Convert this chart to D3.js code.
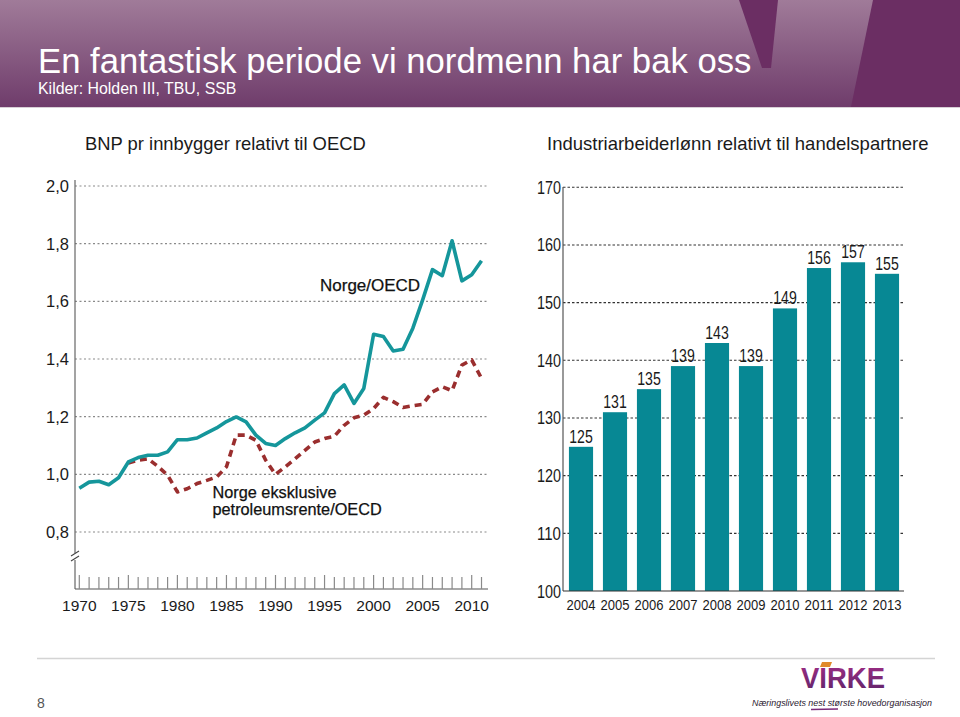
<!DOCTYPE html>
<html><head><meta charset="utf-8">
<script src="https://cdn.jsdelivr.net/npm/d3@7"></script>
<style>body{margin:0;background:#fff}svg{display:block}</style>
</head><body>
<script>
// ---- Data ----
const lineYears = d3.range(1970, 2012);
const norgeOECD = [0.952,0.973,0.976,0.964,0.988,1.043,1.058,1.066,1.066,1.078,1.12,1.12,1.126,1.144,1.161,1.183,1.199,1.182,1.136,1.107,1.10,1.124,1.144,1.161,1.188,1.213,1.28,1.31,1.246,1.298,1.486,1.478,1.428,1.434,1.507,1.605,1.71,1.689,1.81,1.671,1.692,1.741];
const exPetroYears = d3.range(1975, 2012);
const norgeExPetro = [1.039,1.049,1.054,1.028,0.997,0.939,0.95,0.968,0.979,0.991,1.026,1.136,1.136,1.118,1.049,1.0,1.026,1.054,1.083,1.112,1.124,1.132,1.17,1.196,1.205,1.228,1.267,1.252,1.232,1.238,1.243,1.286,1.304,1.29,1.379,1.397,1.333];
const leftTicks = [0.8,1.0,1.2,1.4,1.6,1.8,2.0];
const leftYearLabels = [1970,1975,1980,1985,1990,1995,2000,2005,2010];

const barYears = ["2004","2005","2006","2007","2008","2009","2010","2011","2012","2013"];
const wageIndex = [125,131,135,139,143,139,149,156,157,155];
const rightTicks = [100,110,120,130,140,150,160,170];

const sans = "'Liberation Sans',Arial,sans-serif";

const svg = d3.select("body").append("svg").attr("width",960).attr("height",717);
const defs = svg.append("defs");
const hg = defs.append("linearGradient").attr("id","hdr").attr("x1",0).attr("y1",0).attr("x2",0).attr("y2",1);
hg.append("stop").attr("offset","0%").attr("stop-color","#a07b99");
hg.append("stop").attr("offset","100%").attr("stop-color","#6f3c6b");
const lg = defs.append("linearGradient").attr("id","logo").attr("x1",0).attr("y1",0).attr("x2",0).attr("y2",1);
lg.append("stop").attr("offset","0%").attr("stop-color","#a22d86");
lg.append("stop").attr("offset","100%").attr("stop-color","#5b2468");

// ---- Header ----
svg.append("rect").attr("x",0).attr("y",0).attr("width",960).attr("height",107).attr("fill","url(#hdr)");
svg.append("polygon").attr("points","739,0 778,0 771,68 762,68").attr("fill","#6b2e63");
svg.append("polygon").attr("points","873,0 960,0 960,107 851,107").attr("fill","#6b2e63");
svg.append("line").attr("x1",0).attr("x2",960).attr("y1",107.5).attr("y2",107.5).attr("stroke","#d8cfd6");
svg.append("text").attr("x",38).attr("y",73).attr("font-family",sans).attr("font-size",34.7).attr("fill","#fff")
  .text("En fantastisk periode vi nordmenn har bak oss");
svg.append("text").attr("x",38).attr("y",94).attr("font-family",sans).attr("font-size",15.9).attr("fill","#fff")
  .text("Kilder: Holden III, TBU, SSB");

// ---- Chart titles ----
svg.append("text").attr("x",85).attr("y",150).attr("font-family",sans).attr("font-size",18.4).attr("fill","#1a1a1a")
  .text("BNP pr innbygger relativt til OECD");
svg.append("text").attr("x",547).attr("y",150).attr("font-family",sans).attr("font-size",18.5).attr("fill","#1a1a1a")
  .text("Industriarbeiderlønn relativt til handelspartnere");

// ---- Left chart ----
const x = d3.scaleLinear().domain([1970, 2010]).range([79.3, 471.7]);
const y = d3.scaleLinear().domain([0.8, 2.0]).range([532, 186]);
const L = svg.append("g");
L.selectAll("line.grid").data(leftTicks).join("line").attr("class","grid")
  .attr("x1",75).attr("x2",488).attr("y1",d=>y(d)).attr("y2",d=>y(d))
  .attr("stroke","#8a8a8a").attr("stroke-width",1.2).attr("stroke-dasharray","2,2.5");
L.selectAll("text.yl").data(leftTicks).join("text").attr("class","yl")
  .attr("x",69).attr("y",d=>y(d)+6).attr("text-anchor","end")
  .attr("font-family",sans).attr("font-size",16.5).attr("fill","#1a1a1a")
  .text(d=>d3.format(".1f")(d).replace(".",","));
// y axis with break
L.append("line").attr("x1",75).attr("x2",75).attr("y1",180).attr("y2",553).attr("stroke","#666").attr("stroke-width",1.2);
L.append("line").attr("x1",75).attr("x2",75).attr("y1",560).attr("y2",589).attr("stroke","#666").attr("stroke-width",1.2);
L.append("line").attr("x1",71).attr("x2",79).attr("y1",556).attr("y2",551).attr("stroke","#444").attr("stroke-width",1.1);
L.append("line").attr("x1",71).attr("x2",79).attr("y1",561).attr("y2",556).attr("stroke","#444").attr("stroke-width",1.1);
// x axis
L.append("line").attr("x1",75).attr("x2",488).attr("y1",589).attr("y2",589).attr("stroke","#555").attr("stroke-width",1.2);
L.selectAll("line.tk").data(lineYears).join("line").attr("class","tk")
  .attr("x1",d=>x(d)).attr("x2",d=>x(d)).attr("y1",d=>d%5===0?575:577).attr("y2",589)
  .attr("stroke","#8a8a8a").attr("stroke-width",1.2);
L.selectAll("text.xl").data(leftYearLabels).join("text").attr("class","xl")
  .attr("x",d=>x(d)).attr("y",611).attr("text-anchor","middle")
  .attr("font-family",sans).attr("font-size",15.5).attr("fill","#1a1a1a").text(d=>d);
// lines
const line = d3.line().x(d=>x(d[0])).y(d=>y(d[1]));
L.append("path").datum(exPetroYears.map((yr,i)=>[yr,norgeExPetro[i]]))
  .attr("d",line).attr("fill","none").attr("stroke","#9a2e2e").attr("stroke-width",3.6)
  .attr("stroke-dasharray","7,5").attr("stroke-linejoin","round");
L.append("path").datum(lineYears.map((yr,i)=>[yr,norgeOECD[i]]))
  .attr("d",line).attr("fill","none").attr("stroke","#15969b").attr("stroke-width",3.6).attr("stroke-linejoin","round");
L.append("text").attr("x",320).attr("y",291).attr("font-family",sans).attr("font-size",17).attr("fill","#111").attr("stroke","#111").attr("stroke-width",0.25).text("Norge/OECD");
L.append("text").attr("x",212.5).attr("y",498).attr("font-family",sans).attr("font-size",16.3).attr("fill","#111").attr("stroke","#111").attr("stroke-width",0.25).text("Norge eksklusive");
L.append("text").attr("x",212.5).attr("y",515).attr("font-family",sans).attr("font-size",16.3).attr("fill","#111").attr("stroke","#111").attr("stroke-width",0.25).text("petroleumsrente/OECD");

// ---- Right chart ----
const xb = d3.scaleBand().domain(barYears).range([564, 904]).paddingInner(0.29).paddingOuter(0.145);
const yb = d3.scaleLinear().domain([100,170]).range([591, 187.3]);
const R = svg.append("g");
R.selectAll("line.grid").data(rightTicks.filter(d=>d>100)).join("line").attr("class","grid")
  .attr("x1",563).attr("x2",904).attr("y1",d=>yb(d)).attr("y2",d=>yb(d))
  .attr("stroke","#333").attr("stroke-width",1.1).attr("stroke-dasharray","2.5,2");
R.selectAll("rect.bar").data(barYears).join("rect").attr("class","bar")
  .attr("x",d=>xb(d)).attr("width",xb.bandwidth())
  .attr("y",(d,i)=>yb(wageIndex[i])).attr("height",(d,i)=>yb(100)-yb(wageIndex[i]))
  .attr("fill","#078894");
R.append("line").attr("x1",563).attr("x2",563).attr("y1",187).attr("y2",591).attr("stroke","#555").attr("stroke-width",1.2);
R.append("line").attr("x1",563).attr("x2",904).attr("y1",591).attr("y2",591).attr("stroke","#333").attr("stroke-width",1.2);
R.selectAll("text.yl").data(rightTicks).join("text").attr("class","yl")
  .attr("x",561).attr("y",d=>yb(d)+6.5).attr("text-anchor","end")
  .attr("font-family",sans).attr("font-size",17.5).attr("textLength",24).attr("lengthAdjust","spacingAndGlyphs")
  .attr("fill","#1a1a1a").text(d=>d);
R.selectAll("text.val").data(barYears).join("text").attr("class","val")
  .attr("x",d=>xb(d)+xb.bandwidth()/2-11.75).attr("y",(d,i)=>yb(wageIndex[i])-4)
  .attr("font-family",sans).attr("font-size",17.5).attr("textLength",23.5).attr("lengthAdjust","spacingAndGlyphs")
  .attr("fill","#1a1a1a").text((d,i)=>wageIndex[i]);
R.selectAll("text.xl").data(barYears).join("text").attr("class","xl")
  .attr("x",d=>xb(d)+xb.bandwidth()/2-14.5).attr("y",610)
  .attr("font-family",sans).attr("font-size",15).attr("textLength",29).attr("lengthAdjust","spacingAndGlyphs")
  .attr("fill","#1a1a1a").text(d=>d);

// ---- Footer ----
svg.append("line").attr("x1",37).attr("x2",935).attr("y1",658.5).attr("y2",658.5).attr("stroke","#d4d4d4").attr("stroke-width",1.5);
svg.append("text").attr("x",37).attr("y",708).attr("font-family",sans).attr("font-size",14).attr("fill","#555").text("8");
svg.append("text").attr("x",801).attr("y",688).attr("font-family",sans).attr("font-weight","bold").attr("font-size",29)
  .attr("textLength",84).attr("lengthAdjust","spacingAndGlyphs").attr("fill","url(#logo)").text("VIRKE");
svg.append("polygon").attr("points","822,662 832,662 830,667 820,667").attr("fill","#e08a2a");
svg.append("text").attr("x",752).attr("y",706).attr("font-family",sans).attr("font-style","italic").attr("font-size",9.5)
  .attr("textLength",180).attr("lengthAdjust","spacingAndGlyphs").attr("fill","#2a2030").text("Næringslivets nest største hovedorganisasjon");
svg.append("line").attr("x1",811).attr("x2",838).attr("y1",709.5).attr("y2",709).attr("stroke","#7a2a78").attr("stroke-width",1.6);
</script>
</body></html>
